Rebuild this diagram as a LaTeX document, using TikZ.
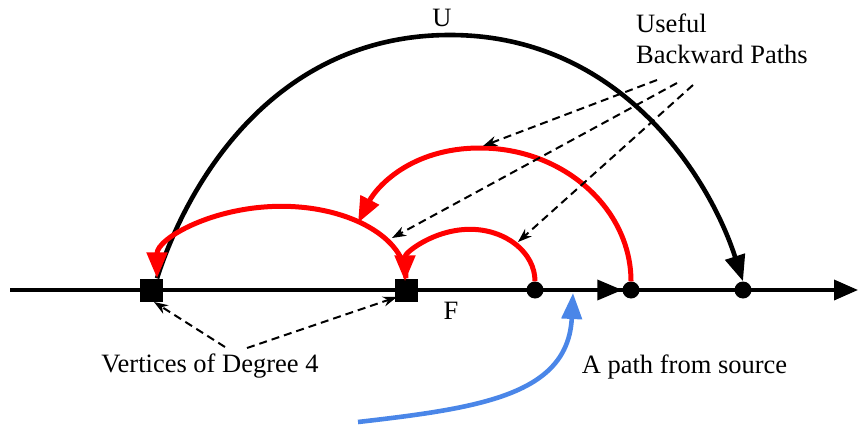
\documentclass[tikz,border=0pt]{standalone}
\usepackage{fontspec}
\setmainfont{Liberation Serif}
\usetikzlibrary{arrows.meta}
\definecolor{pathblue}{RGB}{74,134,232}
\begin{document}
\begin{tikzpicture}[x=1pt,y=-1pt,
  lbl/.style={font=\fontsize{26.5}{31}\selectfont, inner sep=0pt},
  sqv/.style={draw=none, fill=black, minimum size=23pt, inner sep=0pt},
  dotv/.style={circle, fill=black, minimum size=17pt, inner sep=0pt},
  axis/.style={line width=3.6pt, black},
  uarc/.style={line width=4.6pt, black, -{Triangle[length=26pt,width=20pt]}},
  back/.style={line width=5pt, red, -{Triangle[length=26pt,width=20pt]}},
  note/.style={line width=2pt, black, dash pattern=on 8pt off 5pt, -{Stealth[length=14pt,width=10pt]}},
  src/.style={line width=4.6pt, pathblue, -{Triangle[length=26pt,width=20pt]}}]
\useasboundingbox (0,0) rectangle (858,425);
% main line
\coordinate (L) at (10,290);
\coordinate (R) at (858,290);
\draw[axis, -{Triangle[length=24pt,width=20pt]}] (L) -- (R);
% vertices
\node[sqv] (s1) at (151,290) {};
\node[sqv] (s2) at (406,290) {};
\node[dotv] (d1) at (535,290) {};
\node[dotv] (d2) at (631,290) {};
\node[dotv] (d3) at (743,290) {};
\draw[axis, -{Triangle[length=25pt,width=20pt]}] (d1) -- (d2);
% U arc
\coordinate (utop) at (450,35);
\draw[uarc] ([xshift=6pt]s1.north) .. controls +(34,-105) and +(-170,0) .. (utop)
  .. controls +(170,0) and +(-34,-105) .. (d3.north);
% red backward paths
\draw[back] (d1.north) arc[start angle=0,end angle=180,x radius=65pt,y radius=52pt];
\draw[back] (s2.north) arc[start angle=0,end angle=180,x radius=124.5pt,y radius=72pt];
\coordinate (mtop) at (480,148);
\coordinate (mend) at (358,223);
\draw[back] (d2.north) .. controls +(0,-73) and +(83,0) .. (mtop)
  .. controls +(-70,0) and +(18,-35) .. (mend);
% labels
\node[lbl, anchor=base] (ulab) at (442,26.5) {U};
\node[lbl, anchor=base] (flab) at (451,319) {F};
\node[lbl, anchor=base] (vlab) at (210,372) {Vertices of Degree 4};
\node[lbl, anchor=base] (plab) at (684.5,373) {A path from source};
\node[lbl, anchor=north west, align=left] (ubp) at (636,14) {Useful\\Backward Paths};
% dashed pointers
\coordinate (n1s) at (657,80);  \coordinate (n1e) at (483,146);
\coordinate (n2s) at (677,83);  \coordinate (n2e) at (392,238);
\coordinate (n3s) at (693,85);  \coordinate (n3e) at (518,242);
\coordinate (v1s) at (225,347); \coordinate (v1e) at (154,302);
\coordinate (v2s) at (247,348); \coordinate (v2e) at (397,297);
\draw[note] (n1s) -- (n1e);
\draw[note] (n2s) -- (n2e);
\draw[note] (n3s) -- (n3e);
\draw[note] (v1s) -- (v1e);
\draw[note] (v2s) -- (v2e);
% path from source
\coordinate (bs) at (358,422);
\coordinate (bt) at (573,293);
\draw[src] (bs) .. controls (480,408) and (568,395) .. (bt);
\end{tikzpicture}
\end{document}
